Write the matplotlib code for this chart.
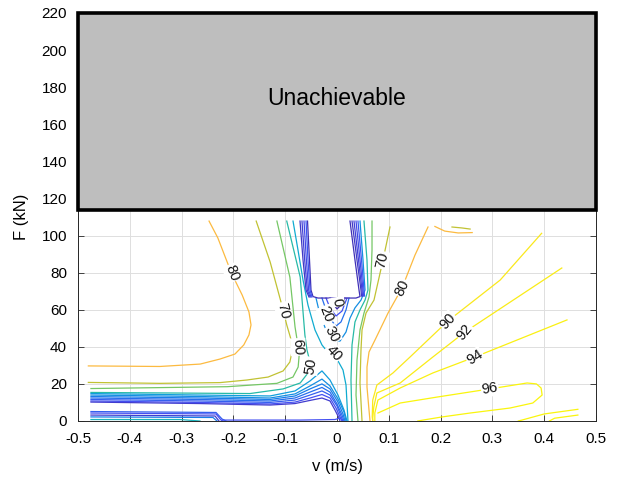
import matplotlib
matplotlib.use("Agg")
import matplotlib.pyplot as plt
from matplotlib.colors import LinearSegmentedColormap, Normalize
from matplotlib.patches import Rectangle

plt.rcParams['font.family'] = ['Liberation Sans', 'DejaVu Sans']

# ---------------------------------------------------------------
# Efficiency iso-lines (%) of the actuator, v in m/s, F in kN
# ---------------------------------------------------------------
# braking side (v < 0)
c80_brake_v = [-0.480, -0.342, -0.264, -0.226, -0.197, -0.180, -0.170, -0.166, -0.170, -0.183, -0.203, -0.212, -0.230, -0.247]
c80_brake_F = [29.7, 29.4, 30.7, 33.4, 36.1, 41.0, 46.4, 51.8, 58.8, 67.9, 79.3, 85.7, 98.7, 107.8]
c70_brake_v = [-0.480, -0.342, -0.226, -0.174, -0.133, -0.104, -0.091, -0.087, -0.089, -0.097, -0.104, -0.129, -0.156]
c70_brake_F = [20.8, 20.3, 20.7, 22.1, 23.7, 27.0, 31.8, 37.2, 44.2, 51.8, 59.9, 85.7, 107.8]
c60_brake_v = [-0.475, -0.212, -0.116, -0.085, -0.075, -0.073, -0.077, -0.081, -0.091, -0.116]
c60_brake_F = [17.5, 18.5, 20.3, 23.7, 29.1, 35.6, 43.7, 50.7, 77.6, 107.8]
c50_brake_v = [-0.475, -0.168, -0.104, -0.071, -0.056, -0.052, -0.058, -0.062, -0.071, -0.097]
c50_brake_F = [15.4, 14.8, 17.3, 20.5, 25.9, 31.8, 38.3, 46.4, 77.6, 107.8]
c40_v = [-0.0849, -0.0753, -0.0656, -0.0560, -0.0425, -0.0290, -0.0135, 0.0019, 0.0116, 0.0174, 0.0212]
c40_F = [107.8, 92.2, 76.0, 62.5, 49.1, 41.0, 35.6, 32.4, 27.5, 19.4, 0.0]

# valley below the no-data notch
c0_v = [-0.0135, -0.0058, 0.0, 0.0077, 0.0154]
c0_F = [66.3, 62.5, 60.4, 62.5, 66.3]
c10_v = [-0.0212, -0.0135, -0.0019, 0.0097, 0.0193]
c10_F = [66.3, 61.0, 56.6, 59.3, 66.3]
c20_v = [-0.0290, -0.0212, -0.0116, -0.0019, 0.0077, 0.0174, 0.0232]
c20_F = [66.3, 59.9, 54.5, 51.2, 53.4, 59.9, 66.3]
c30_v = [-0.0405, -0.0328, -0.0212, -0.0077, 0.0058, 0.0174, 0.0251, 0.0347, 0.0463, 0.0541, 0.0502, 0.0444]
c30_F = [66.3, 57.2, 49.1, 43.7, 43.1, 48.0, 55.5, 61.0, 65.2, 70.6, 86.8, 107.8]

# edges of the no-data notch
notch_v = [-0.0569, -0.0531, -0.0502, -0.0463, -0.0367, 0.0367, 0.0444, 0.0425, 0.0347, 0.0251]
notch_F = [107.8, 86.8, 70.6, 67.1, 66.3, 66.3, 67.1, 70.6, 86.8, 107.8]
hug_left_F = [107.8, 86.8, 70.6, 66.9]
hug_left1_v = [-0.0714, -0.0656, -0.0598, -0.0541]
hug_left2_v = [-0.0676, -0.0624, -0.0573, -0.0521]
hug_left3_v = [-0.0637, -0.0591, -0.0548, -0.0502]
hug_left4_v = [-0.0598, -0.0560, -0.0521, -0.0483]
hug_right_F = [107.8, 86.8, 70.6, 67.4]
hug_right1_v = [0.0290, 0.0386, 0.0463, 0.0473]
hug_right2_v = [0.0328, 0.0415, 0.0483, 0.0492]
hug_right3_v = [0.0367, 0.0444, 0.0502, 0.0512]
hug_right4_v = [0.0405, 0.0473, 0.0521, 0.0531]

# low-force band on the braking side
b35_v = [-0.475, -0.2645, -0.1293, -0.0811, -0.0521, -0.0290, -0.0135, 0.0019, 0.0135, 0.0193]
b35_F = [14.8, 14.0, 13.5, 16.2, 21.6, 27.0, 22.1, 14.0, 5.9, 0.0]
b30_v = [-0.475, -0.2645, -0.1293, -0.0811, -0.0521, -0.0290, -0.0135, 0.0019, 0.0135, 0.0174]
b30_F = [14.0, 13.2, 12.4, 14.6, 18.9, 22.6, 18.9, 11.9, 4.9, 0.0]
b25_v = [-0.475, -0.2645, -0.1293, -0.0811, -0.0521, -0.0290, -0.0135, 0.0019, 0.0116, 0.0154]
b25_F = [13.2, 12.4, 11.6, 13.5, 17.3, 20.0, 17.3, 10.2, 3.8, 0.0]
b20_v = [-0.475, -0.2645, -0.1293, -0.0811, -0.0521, -0.0290, -0.0135, 0.0, 0.0097, 0.0135]
b20_F = [12.4, 11.6, 10.8, 12.4, 15.6, 18.1, 15.6, 9.2, 3.2, 0.0]
b15_v = [-0.475, -0.2645, -0.1293, -0.0811, -0.0521, -0.0290, -0.0135, 0.0, 0.0077, 0.0116]
b15_F = [11.6, 10.8, 10.0, 11.3, 14.0, 16.2, 14.0, 8.1, 2.7, 0.0]
b10_v = [-0.475, -0.2645, -0.1293, -0.0811, -0.0521, -0.0290, -0.0135, -0.0019, 0.0058, 0.0097]
b10_F = [10.8, 10.0, 9.2, 10.2, 12.4, 14.3, 12.4, 7.0, 2.2, 0.0]
b5_v = [-0.475, -0.2645, -0.1293, -0.0811, -0.0521, -0.0290, -0.0135, -0.0039, 0.0039, 0.0058]
b5_F = [10.2, 9.4, 8.6, 9.4, 11.1, 12.4, 10.8, 5.9, 1.6, 0.0]

s15_v = [-0.475, -0.2336, -0.2220, -0.2143]
s15_F = [5.1, 4.6, 1.1, 0.0]
s10_v = [-0.475, -0.2336, -0.2239, -0.2201]
s10_F = [4.3, 3.8, 0.5, 0.0]
s5_v = [-0.475, -0.2355, -0.2278]
s5_F = [3.2, 2.7, 0.0]
s25_v = [-0.475, -0.2394, -0.2317]
s25_F = [2.2, 1.9, 0.0]
s45_v = [-0.475, -0.3031, -0.2645]
s45_F = [0.8, 0.8, 0.0]
floor_v = [-0.2220, -0.0714, -0.0039, 0.0058, 0.0116]
floor_F = [0.5, 0.5, 0.8, 1.6, 0.0]

# motoring side (v > 0)
c50_motor_v = [0.0521, 0.0579, 0.0598, 0.0541, 0.0444, 0.0347, 0.0290, 0.0270, 0.0290]
c50_motor_F = [107.8, 86.8, 70.6, 65.2, 59.9, 53.4, 41.0, 22.1, 0.0]
c60_motor_v = [0.0676, 0.0676, 0.0656, 0.0618, 0.0521, 0.0444, 0.0386, 0.0367, 0.0405]
c60_motor_F = [107.8, 92.2, 76.0, 66.9, 58.2, 49.1, 32.9, 14.0, 0.0]
c70_motor_v = [0.1023, 0.0888, 0.0714, 0.0560, 0.0483, 0.0463, 0.0444, 0.0483]
c70_motor_F = [104.6, 86.8, 65.2, 58.2, 49.1, 38.3, 20.5, 0.0]
c80_motor_v = [0.1757, 0.1506, 0.1255, 0.0985, 0.0734, 0.0618, 0.0579, 0.0579, 0.0618, 0.0637]
c80_motor_F = [104.6, 89.5, 71.7, 58.2, 43.7, 37.2, 29.1, 18.3, 5.9, 0.0]
c80_spot_v = [0.189, 0.208, 0.234, 0.261]
c80_spot_F = [104.9, 102.4, 101.4, 101.6]
c70_spot_v = [0.222, 0.241, 0.257]
c70_spot_F = [104.6, 104.1, 103.5]
c90_v = [0.395, 0.315, 0.214, 0.141, 0.108, 0.077, 0.069, 0.068, 0.069]
c90_F = [101.2, 76.0, 53.9, 34.5, 25.9, 19.4, 11.3, 2.2, 0.0]
c92_v = [0.434, 0.247, 0.185, 0.122, 0.077, 0.071, 0.069, 0.069]
c92_F = [82.5, 48.0, 34.5, 20.5, 15.1, 7.5, 1.6, 0.0]
c94_v = [0.444, 0.266, 0.185, 0.122, 0.079, 0.073, 0.073]
c94_F = [54.5, 34.5, 25.9, 17.8, 11.3, 4.3, 0.0]
c96_v = [0.079, 0.122, 0.193, 0.295, 0.367, 0.385, 0.394, 0.396, 0.378, 0.334, 0.257, 0.203, 0.166, 0.156]
c96_F = [4.3, 9.7, 12.9, 17.3, 20.5, 20.0, 17.8, 14.0, 9.7, 7.0, 4.3, 2.2, 0.5, 0.0]
c96_edge_v = [0.465, 0.400, 0.357, 0.350]
c96_edge_F = [6.3, 3.8, 0.5, 0.0]
c96_corner_v = [0.465, 0.420, 0.410]
c96_corner_F = [3.2, 1.5, 0.0]

# label text, position (v, F) and angle
label_text = ['80', '70', '60', '50', '0', '20', '30', '40', '70', '80', '90', '92', '94', '96']
label_v = [-0.203, -0.104, -0.075, -0.050, 0.000, -0.021, -0.0097, -0.006, 0.087, 0.126, 0.214, 0.247, 0.266, 0.295]
label_F = [79.8, 59.3, 39.9, 29.7, 64.2, 57.4, 46.7, 36.7, 86.8, 71.7, 53.9, 48.0, 34.5, 17.3]
label_rot = [-68, -76, -87, 80, -80, -68, -62, -48, 77, 65, 48, 50, 33, 10]

x_ticks = [-0.5, -0.4, -0.3, -0.2, -0.1, 0.0, 0.1, 0.2, 0.3, 0.4, 0.5]
x_tick_labels = ['-0.5', '-0.4', '-0.3', '-0.2', '-0.1', '0', '0.1', '0.2', '0.3', '0.4', '0.5']
y_ticks = list(range(0, 221, 20))

limit_F = 114  # lower edge of the force region that cannot be reached

lines = [
    (80, c80_brake_v, c80_brake_F), (70, c70_brake_v, c70_brake_F),
    (60, c60_brake_v, c60_brake_F), (50, c50_brake_v, c50_brake_F),
    (40, c40_v, c40_F), (0, c0_v, c0_F), (10, c10_v, c10_F),
    (20, c20_v, c20_F), (30, c30_v, c30_F), (2, notch_v, notch_F),
    (4, hug_left1_v, hug_left_F), (6, hug_left2_v, hug_left_F),
    (8, hug_left3_v, hug_left_F), (12, hug_left4_v, hug_left_F),
    (4, hug_right1_v, hug_right_F), (6, hug_right2_v, hug_right_F),
    (8, hug_right3_v, hug_right_F), (12, hug_right4_v, hug_right_F),
    (35, b35_v, b35_F), (30, b30_v, b30_F), (25, b25_v, b25_F),
    (20, b20_v, b20_F), (15, b15_v, b15_F), (10, b10_v, b10_F), (5, b5_v, b5_F),
    (15, s15_v, s15_F), (10, s10_v, s10_F), (5, s5_v, s5_F),
    (25, s25_v, s25_F), (45, s45_v, s45_F), (10, floor_v, floor_F),
    (50, c50_motor_v, c50_motor_F), (60, c60_motor_v, c60_motor_F),
    (70, c70_motor_v, c70_motor_F), (80, c80_motor_v, c80_motor_F),
    (80, c80_spot_v, c80_spot_F), (70, c70_spot_v, c70_spot_F),
    (90, c90_v, c90_F), (92, c92_v, c92_F), (94, c94_v, c94_F),
    (96, c96_v, c96_F), (96, c96_edge_v, c96_edge_F), (96, c96_corner_v, c96_corner_F),
]

# parula-like colour map
parula = LinearSegmentedColormap.from_list('parula_like', [
    (0.00, (0.24, 0.16, 0.66)),
    (0.10, (0.27, 0.31, 0.95)),
    (0.25, (0.10, 0.48, 0.92)),
    (0.40, (0.05, 0.66, 0.84)),
    (0.52, (0.15, 0.73, 0.66)),
    (0.625, (0.45, 0.78, 0.40)),
    (0.73, (0.76, 0.76, 0.20)),
    (0.83, (0.99, 0.72, 0.26)),
    (0.92, (0.98, 0.89, 0.13)),
    (1.00, (0.98, 0.96, 0.05)),
])
norm = Normalize(0, 96)

fig = plt.figure(figsize=(6.19, 4.82), dpi=100)
ax = fig.add_axes([78 / 619, 1 - 421 / 482, 518 / 619, 408 / 482])

for level, vv, ff in lines:
    ax.plot(vv, ff, color=parula(norm(level)), lw=0.9, zorder=2,
            solid_joinstyle='round')

for txt, lv, lf, rot in zip(label_text, label_v, label_F, label_rot):
    ax.text(lv, lf, txt, rotation=rot, rotation_mode='anchor', ha='center', va='center',
            fontsize=10.5, color='#111111', zorder=4,
            bbox=dict(boxstyle='square,pad=0.05', fc='white', ec='none'))

ax.add_patch(Rectangle((-0.5, limit_F), 1.0, 220 - limit_F, facecolor='#bebebe',
                       edgecolor='black', lw=2.6, zorder=5, clip_on=False))
ax.text(0.0, 174, 'Unachievable', ha='center', va='center', fontsize=16.5, zorder=6)

ax.set_xlim(-0.5, 0.5)
ax.set_ylim(0, 220)
ax.set_xticks(x_ticks)
ax.set_xticklabels(x_tick_labels)
ax.set_yticks(y_ticks)
ax.grid(True, color='#dedede', lw=0.7, zorder=0)
ax.set_axisbelow(True)
ax.tick_params(direction='in', top=True, right=True, length=4, width=0.6,
               labelsize=11, colors='#262626', labelcolor='black', pad=8)
for sp in ax.spines.values():
    sp.set_color('#262626')
    sp.set_linewidth(0.7)
ax.set_xlabel('v (m/s)', fontsize=12, labelpad=9)
ax.set_ylabel('F (kN)', fontsize=12, labelpad=9)

fig.savefig('out.png', dpi=100)
